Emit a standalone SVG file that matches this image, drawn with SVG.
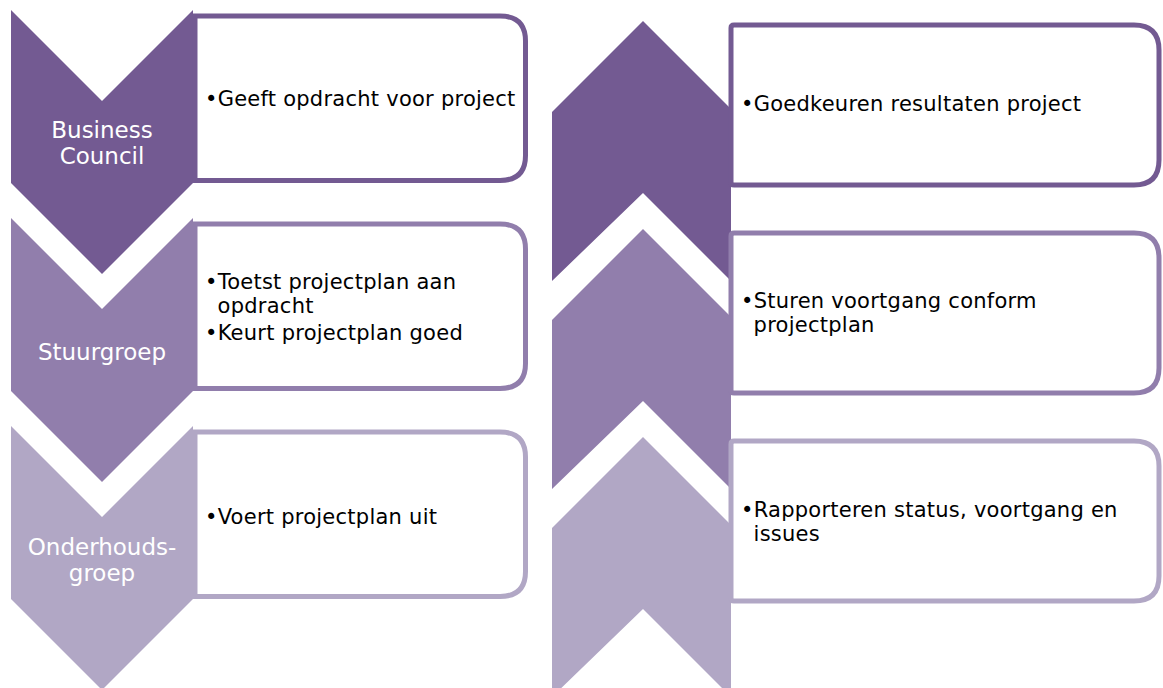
<svg xmlns="http://www.w3.org/2000/svg" width="1163" height="688" viewBox="0 0 1163 688">
<style>
.c1{fill:#735A92}.c2{fill:#917EAC}.c3{fill:#B1A7C5}
.b{fill:#fff;stroke-width:5}
.s1{stroke:#735A92}.s2{stroke:#917EAC}.s3{stroke:#B1A7C5}
.lab{font-family:"DejaVu Sans",Verdana,sans-serif;font-size:23px;fill:#fff;text-anchor:middle}
.txt{font-family:"DejaVu Sans",Verdana,sans-serif;font-size:21px;fill:#000;letter-spacing:0.25px}
</style>
<rect width="1163" height="688" fill="#fff"/>
<g id="left-1">
<path class="c1" d="M11,10 L102,101 L193,10 L193,183 L102,274 L11,183 Z"/>
<path class="b s1" d="M195,16 H500 Q525.5,16 525.5,41 V155.5 Q525.5,180.5 500,180.5 H195 Z"/>
<text class="lab" x="102" y="138">Business</text>
<text class="lab" x="102" y="164">Council</text>
<text class="txt" x="205" y="106">•Geeft opdracht voor project</text>
</g>
<g id="left-2">
<path class="c2" d="M11,218 L102,309 L193,218 L193,391 L102,482 L11,391 Z"/>
<path class="b s2" d="M195,224 H500 Q525.5,224 525.5,249 V363.5 Q525.5,388.5 500,388.5 H195 Z"/>
<text class="lab" x="102" y="360">Stuurgroep</text>
<text class="txt" x="205" y="289">•Toetst projectplan aan</text>
<text class="txt" x="217.6" y="313">opdracht</text>
<text class="txt" x="205" y="340">•Keurt projectplan goed</text>
</g>
<g id="left-3">
<path class="c3" d="M11,426 L102,517 L193,426 L193,599 L102,690 L11,599 Z"/>
<path class="b s3" d="M195,432 H500 Q525.5,432 525.5,457 V571.5 Q525.5,596.5 500,596.5 H195 Z"/>
<text class="lab" x="102" y="555">Onderhouds-</text>
<text class="lab" x="102" y="581">groep</text>
<text class="txt" x="205" y="524">•Voert projectplan uit</text>
</g>
<g id="right-1">
<path class="c1" d="M643,21 L731,109 L731,281 L643,193 L552,281 L552,112 Z"/>
<path class="b s1" d="M734,25 H1134 Q1159,25 1159,50 V160 Q1159,185 1134,185 H734 Q731,185 731,182 V28 Q731,25 734,25 Z"/>
<text class="txt" x="741" y="111">•Goedkeuren resultaten project</text>
</g>
<g id="right-2">
<path class="c2" d="M643,229 L731,317 L731,489 L643,401 L552,489 L552,320 Z"/>
<path class="b s2" d="M734,233 H1134 Q1159,233 1159,258 V368 Q1159,393 1134,393 H734 Q731,393 731,390 V236 Q731,233 734,233 Z"/>
<text class="txt" x="741" y="308">•Sturen voortgang conform</text>
<text class="txt" x="753.6" y="332">projectplan</text>
</g>
<g id="right-3">
<path class="c3" d="M643,437 L731,525 L731,697 L643,609 L552,697 L552,528 Z"/>
<path class="b s3" d="M734,441 H1134 Q1159,441 1159,466 V576 Q1159,601 1134,601 H734 Q731,601 731,598 V444 Q731,441 734,441 Z"/>
<text class="txt" x="741" y="517">•Rapporteren status, voortgang en</text>
<text class="txt" x="753.6" y="541">issues</text>
</g>
<g id="connectors"/>
</svg>
